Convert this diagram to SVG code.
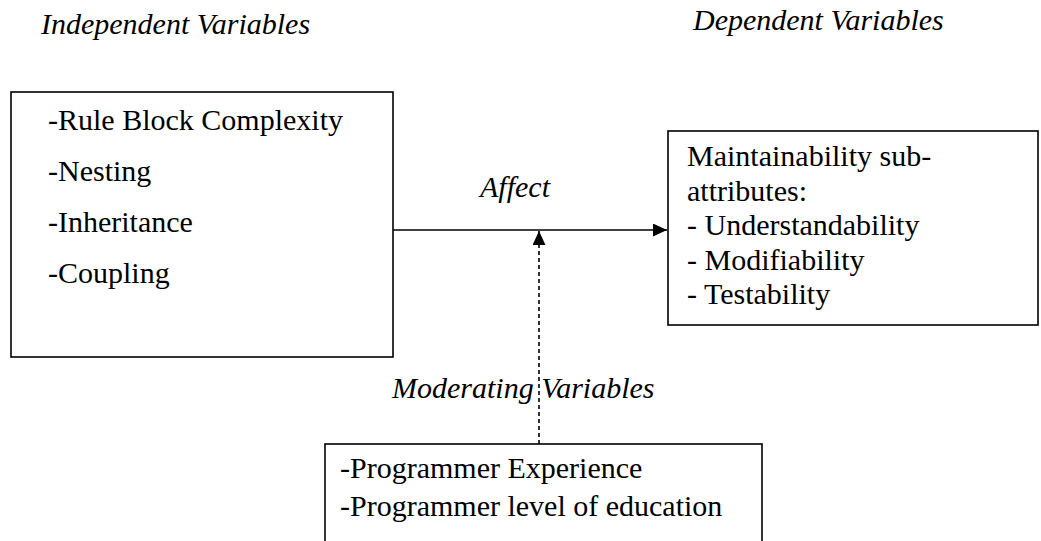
<svg xmlns="http://www.w3.org/2000/svg" width="1041" height="541" viewBox="0 0 1041 541">
  <style>
    .box { fill: #ffffff; stroke: #000000; stroke-width: 1.6; }
    .txt { font-family: "Liberation Serif", "Times New Roman", serif; fill: #000000; font-size: 30px; }
    .it { font-style: italic; }
    .edge { stroke: #000000; stroke-width: 1.6; fill: none; }
    .dash { stroke-dasharray: 4 3; }
  </style>
  <defs>
    <marker id="head" viewBox="0 0 10 10" refX="10" refY="5" markerWidth="14" markerHeight="13" markerUnits="userSpaceOnUse" orient="auto" preserveAspectRatio="none">
      <path d="M0,0 L10,5 L0,10 Z" fill="#000000"/>
    </marker>
  </defs>
  <rect width="1041" height="541" fill="#ffffff"/>

  <!-- column headings -->
  <text class="txt it" x="41" y="34" font-size="29">Independent Variables</text>
  <text class="txt it" x="693" y="30">Dependent Variables</text>

  <g id="independent">
    <rect class="box" x="11" y="92" width="382" height="265"/>
    <text class="txt" x="48" y="130">-Rule Block Complexity</text>
    <text class="txt" x="48" y="181">-Nesting</text>
    <text class="txt" x="48" y="232">-Inheritance</text>
    <text class="txt" x="48" y="283">-Coupling</text>
  </g>

  <g id="dependent">
    <rect class="box" x="668" y="131" width="370" height="194"/>
    <text class="txt" x="687" y="166">Maintainability sub-</text>
    <text class="txt" x="687" y="201">attributes:</text>
    <text class="txt" x="687" y="235">- Understandability</text>
    <text class="txt" x="687" y="270">- Modifiability</text>
    <text class="txt" x="687" y="304">- Testability</text>
  </g>

  <g id="moderating">
    <rect class="box" x="325" y="444" width="437" height="120"/>
    <text class="txt" x="340" y="478">-Programmer Experience</text>
    <text class="txt" x="340" y="516">-Programmer level of education</text>
  </g>

  <g id="connectors">
    <line class="edge" x1="393" y1="230" x2="667" y2="230" marker-end="url(#head)"/>
    <line class="edge dash" x1="539" y1="444" x2="539" y2="231" marker-end="url(#head)"/>
    <text class="txt it" x="480" y="197">Affect</text>
    <text class="txt it" x="392" y="398">Moderating Variables</text>
  </g>
</svg>
